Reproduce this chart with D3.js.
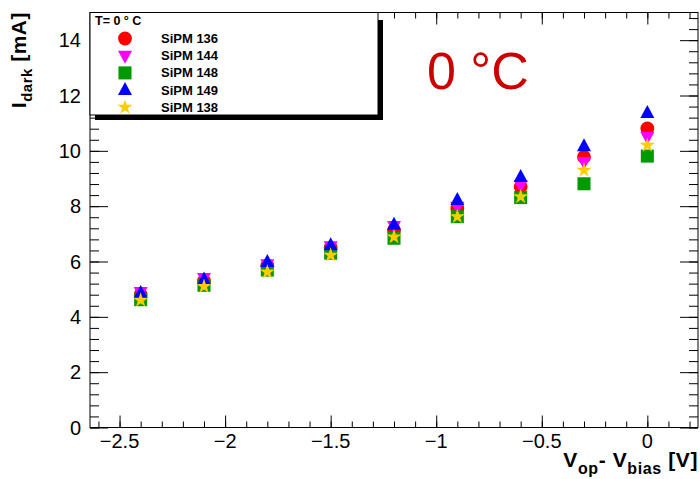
<!DOCTYPE html>
<html>
<head>
<meta charset="utf-8">
<script src="https://cdn.jsdelivr.net/npm/d3@7"></script>
<style>
  body { margin: 0; background: #fff; }
  text { font-family: Helvetica, "Liberation Sans", Arial, sans-serif; }
</style>
</head>
<body>
<svg id="chart" width="700" height="479"></svg>
<script>
// V_op - V_bias [V]
var voltages = [-2.4, -2.1, -1.8, -1.5, -1.2, -0.9, -0.6, -0.3, 0];

// dark current [mA], one list per sensor
var sipm136 = [4.80, 5.30, 5.85, 6.50, 7.13, 7.92, 8.70, 9.78, 10.81];
var sipm144 = [4.90, 5.40, 5.90, 6.55, 7.28, 7.98, 8.76, 9.60, 10.50];
var sipm148 = [4.62, 5.14, 5.69, 6.30, 6.84, 7.62, 8.31, 8.81, 9.81];
var sipm149 = [4.86, 5.35, 5.98, 6.59, 7.33, 8.22, 9.05, 10.17, 11.37];
var sipm138 = [4.60, 5.10, 5.62, 6.23, 6.89, 7.62, 8.34, 9.30, 10.20];

var seriesNames = ["SiPM 136", "SiPM 144", "SiPM 148", "SiPM 149", "SiPM 138"];
var seriesValues = [sipm136, sipm144, sipm148, sipm149, sipm138];
var seriesColors = ["#ff0000", "#ff00ff", "#009900", "#0000ff", "#ffcc00"];
var seriesShapes = ["circle", "triangleDown", "square", "triangle", "star"];

var xTicks = [-2.5, -2, -1.5, -1, -0.5, 0];
var yTicks = [0, 2, 4, 6, 8, 10, 12, 14];

var svg = d3.select("#chart");
var padL = 90, padR = 698, padT = 12.5, padB = 427.5;

var x = d3.scaleLinear().domain([-2.64, 0.24]).range([padL, padR]);
var y = d3.scaleLinear().domain([0, 15]).range([padB, padT]);

function fmt(d) { return d3.format("")(d).replace("-", "\u2212"); }

// frame
svg.append("rect")
    .attr("x", padL).attr("y", padT)
    .attr("width", padR - padL).attr("height", padB - padT)
    .attr("fill", "none").attr("stroke", "#000").attr("stroke-width", 1);

var xMinor = d3.range(-26, 3).map(function(i) { return i / 10; });
var yMinor = d3.range(0, 38).map(function(i) { return i * 0.4; });

// bottom + top axes (ticks inside)
svg.append("g").attr("transform", "translate(0," + padB + ")")
    .call(d3.axisTop(x).tickValues(xMinor).tickSize(6).tickFormat(""));
svg.append("g").attr("transform", "translate(0," + padB + ")")
    .call(d3.axisTop(x).tickValues(xTicks).tickSize(12).tickFormat(""));
svg.append("g").attr("transform", "translate(0," + padT + ")")
    .call(d3.axisBottom(x).tickValues(xMinor).tickSize(6).tickFormat(""));
svg.append("g").attr("transform", "translate(0," + padT + ")")
    .call(d3.axisBottom(x).tickValues(xTicks).tickSize(12).tickFormat(""));

// left + right axes
svg.append("g").attr("transform", "translate(" + padL + ",0)")
    .call(d3.axisRight(y).tickValues(yMinor).tickSize(9).tickFormat(""));
svg.append("g").attr("transform", "translate(" + padL + ",0)")
    .call(d3.axisRight(y).tickValues(yTicks).tickSize(18).tickFormat(""));
svg.append("g").attr("transform", "translate(" + padR + ",0)")
    .call(d3.axisLeft(y).tickValues(yMinor).tickSize(9).tickFormat(""));
svg.append("g").attr("transform", "translate(" + padR + ",0)")
    .call(d3.axisLeft(y).tickValues(yTicks).tickSize(18).tickFormat(""));

svg.selectAll(".domain").remove();
svg.selectAll(".tick line").attr("stroke", "#000");

// tick labels
svg.selectAll(".xlab").data(xTicks).enter().append("text")
    .attr("x", function(d) { return x(d); })
    .attr("y", 448)
    .attr("text-anchor", "middle")
    .attr("font-size", 20)
    .text(fmt);

svg.selectAll(".ylab").data(yTicks).enter().append("text")
    .attr("x", 81)
    .attr("y", function(d) { return y(d) + 7; })
    .attr("text-anchor", "end")
    .attr("font-size", 20)
    .text(fmt);

// axis titles
var xt = svg.append("text")
    .attr("x", 698).attr("y", 467)
    .attr("text-anchor", "end")
    .attr("font-size", 21).attr("font-weight", "bold")
    .attr("letter-spacing", 0.6);
xt.append("tspan").text("V");
xt.append("tspan").attr("dy", 7).attr("font-size", 16).text("op");
xt.append("tspan").attr("dy", -7).text("- V");
xt.append("tspan").attr("dy", 7).attr("font-size", 16).text("bias");
xt.append("tspan").attr("dy", -7).text(" [V]");

var yt = svg.append("text")
    .attr("transform", "translate(26,12) rotate(-90)")
    .attr("text-anchor", "end")
    .attr("font-size", 21).attr("font-weight", "bold")
    .attr("letter-spacing", 0.5);
yt.append("tspan").text("I");
yt.append("tspan").attr("dy", 6).attr("font-size", 15).text("dark");
yt.append("tspan").attr("dy", -6).text(" [mA]");

// marker shapes
function marker(shape) {
  switch (shape) {
    case "circle": return d3.symbol().type(d3.symbolCircle).size(150)();
    case "square": return d3.symbol().type(d3.symbolSquare).size(170)();
    case "triangle": return "M0,-8L7,5L-7,5Z";
    case "triangleDown": return "M0,8L7,-5L-7,-5Z";
    case "star": return d3.symbol().type(d3.symbolStar).size(70)();
  }
}

// big temperature label
svg.append("text")
    .attr("x", 427).attr("y", 89)
    .attr("font-size", 52)
    .attr("fill", "#cc0000")
    .text("0 \u00b0C");

// data points
seriesValues.forEach(function(vals, i) {
  svg.append("g").selectAll("path").data(vals).enter().append("path")
      .attr("transform", function(d, j) {
        return "translate(" + x(voltages[j]) + "," + y(d) + ")";
      })
      .attr("d", marker(seriesShapes[i]))
      .attr("fill", seriesColors[i]);
});

// legend with shadow
var lg = svg.append("g");
lg.append("rect").attr("x", 95).attr("y", 20).attr("width", 288).attr("height", 100).attr("fill", "#000");
lg.append("rect").attr("x", padL).attr("y", padT)
    .attr("width", 288).attr("height", 102.5)
    .attr("fill", "#fff").attr("stroke", "#000").attr("stroke-width", 1);
lg.append("text").attr("x", 95).attr("y", 24.5)
    .attr("font-size", 12.5).attr("font-weight", "bold")
    .text("T= 0 \u00b0 C");
seriesNames.forEach(function(name, i) {
  var yy = 38.5 + i * 17.2;
  lg.append("path")
      .attr("transform", "translate(125," + yy + ")")
      .attr("d", marker(seriesShapes[i]))
      .attr("fill", seriesColors[i]);
  lg.append("text").attr("x", 161).attr("y", yy + 4.5)
      .attr("font-size", 13).attr("font-weight", "bold")
      .text(name);
});
</script>
</body>
</html>
